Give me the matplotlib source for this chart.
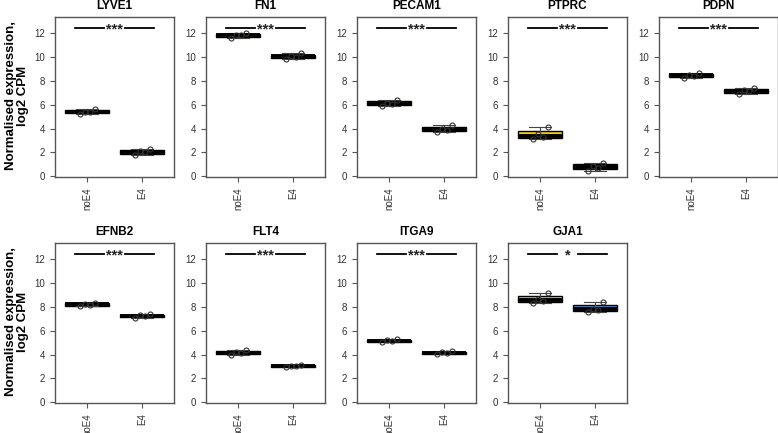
import numpy as np
import matplotlib
matplotlib.use("Agg")
import matplotlib.pyplot as plt

plt.rcParams['font.family'] = ['Liberation Sans', 'DejaVu Sans']

genes = ["LYVE1", "FN1", "PECAM1", "PTPRC", "PDPN",
         "EFNB2", "FLT4", "ITGA9", "GJA1"]
groups = ["noE4", "E4"]
signif = ["***", "***", "***", "***", "***", "***", "***", "***", "*"]

noE4_values = {
    "LYVE1": [5.26, 5.38, 5.42, 5.62],
    "FN1": [11.62, 11.80, 11.86, 11.97],
    "PECAM1": [5.85, 6.05, 6.15, 6.42],
    "PTPRC": [3.13, 3.30, 3.52, 4.13],
    "PDPN": [8.27, 8.43, 8.52, 8.62],
    "EFNB2": [8.03, 8.17, 8.25, 8.35],
    "FLT4": [3.93, 4.12, 4.20, 4.38],
    "ITGA9": [5.02, 5.12, 5.20, 5.28],
    "GJA1": [8.36, 8.50, 8.62, 9.20],
}
E4_values = {
    "LYVE1": [1.76, 2.00, 2.08, 2.32],
    "FN1": [9.82, 10.03, 10.10, 10.30],
    "PECAM1": [3.70, 3.88, 3.95, 4.32],
    "PTPRC": [0.42, 0.72, 0.90, 1.13],
    "PDPN": [6.88, 7.12, 7.22, 7.36],
    "EFNB2": [7.08, 7.22, 7.30, 7.40],
    "FLT4": [2.93, 3.00, 3.05, 3.12],
    "ITGA9": [4.05, 4.12, 4.20, 4.30],
    "GJA1": [7.55, 7.72, 7.85, 8.42],
}

yticks = [0, 2, 4, 6, 8, 10, 12]
sig_y = 12.4

colors = ["#F3CD0C", "#5B8ED4"]
jitter = [-0.13, 0.06, -0.04, 0.14]


def fivenum(v):
    v = np.sort(np.asarray(v, float))
    n = len(v)
    n4 = np.floor((n + 3) / 2) / 2
    d = np.array([1, n4, (n + 1) / 2, n + 1 - n4, n]) - 1
    return 0.5 * (v[np.floor(d).astype(int)] + v[np.ceil(d).astype(int)])


W, H = 778, 433
fig = plt.figure(figsize=(W / 100, H / 100), dpi=100)

lefts = [55, 206, 357, 508, 659]
pw = 119
rows = [(17, 177), (243, 403)]

axc = '#555555'
for i, g in enumerate(genes):
    r, c = divmod(i, 5)
    top, bot = rows[r]
    ax = fig.add_axes([lefts[c] / W, 1 - bot / H, pw / W, (bot - top) / H])
    stats = []
    for vals, lab in [(noE4_values[g], groups[0]), (E4_values[g], groups[1])]:
        f = fivenum(vals)
        stats.append(dict(whislo=f[0], q1=f[1], med=f[2], q3=f[3], whishi=f[4],
                          fliers=[], label=lab))
    bp = ax.bxp(stats, positions=[1, 2], widths=0.8, patch_artist=True,
                showfliers=False,
                boxprops=dict(edgecolor='black', linewidth=1.0),
                medianprops=dict(color='black', linewidth=2.8, solid_capstyle='butt'),
                whiskerprops=dict(color='#444444', linewidth=0.8),
                capprops=dict(color='#444444', linewidth=0.8),
                capwidths=0.4)
    for patch, col in zip(bp['boxes'], colors):
        patch.set_facecolor(col)
    for k, vals in enumerate([noE4_values[g], E4_values[g]]):
        xs = [k + 1 + jitter[j % len(jitter)] for j in range(len(vals))]
        ax.plot(xs, vals, 'o', ms=3.6, mfc='none', mec='#333333', mew=0.8, zorder=5)
    # significance bar
    ax.plot([0.79, 1.31], [sig_y, sig_y], color='black', lw=1.3)
    ax.plot([1.69, 2.21], [sig_y, sig_y], color='black', lw=1.3)
    ax.text(1.5, sig_y - 0.12, signif[i], ha='center', va='center', fontsize=10.5,
            fontweight='bold', color='#222222')
    ax.set_xlim(0.42, 2.58)
    ax.set_ylim(-0.06, 13.35)
    ax.set_yticks(yticks)
    ax.set_xticks([1, 2])
    ax.set_xticklabels(groups, rotation=90)
    ax.tick_params(axis='both', labelsize=7, colors=axc, labelcolor='#333333',
                   length=3.5, width=0.8)
    ax.tick_params(axis='x', pad=4)
    for s in ax.spines.values():
        s.set_color(axc)
        s.set_linewidth(1.0)
    ax.set_title(g, fontsize=8.5, fontweight='bold', pad=6)

for top, bot in rows:
    yc = 1 - ((top + bot) / 2 - 1) / H
    fig.text(17 / W, yc, "Normalised expression,\nlog2 CPM", rotation=90,
             ha='center', va='center', fontsize=9.5, fontweight='bold',
             linespacing=1.05)

fig.savefig("out.png", dpi=100)
